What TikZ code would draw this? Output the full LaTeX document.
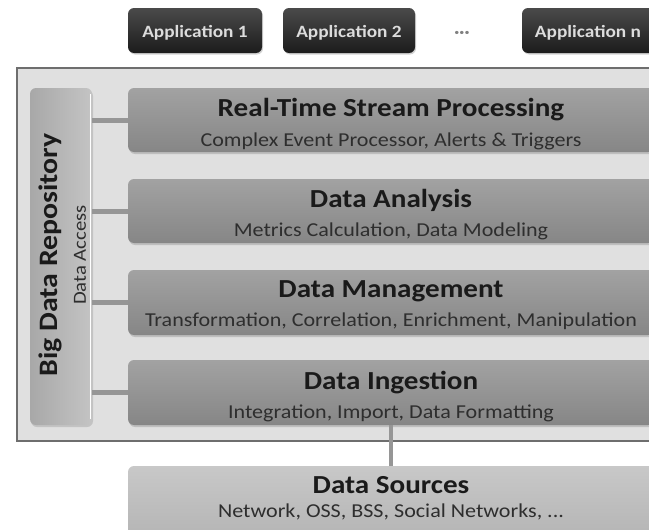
\documentclass[tikz,border=0pt]{standalone}
\usepackage{fontspec}
\setmainfont{Carlito}[FakeStretch=1.12]
\usetikzlibrary{shadows}
\definecolor{contfill}{HTML}{E0E0E0}
\definecolor{contline}{HTML}{6E6E6E}
\definecolor{layertop}{HTML}{A2A2A2}
\definecolor{layerbot}{HTML}{868686}
\definecolor{srctop}{HTML}{C8C8C8}
\definecolor{srcbot}{HTML}{B4B4B4}
\definecolor{repoleft}{HTML}{A8A8A8}
\definecolor{reporight}{HTML}{C4C4C4}
\definecolor{apptop}{HTML}{4A4A4A}
\definecolor{appbot}{HTML}{1C1C1C}
\definecolor{apptext}{HTML}{DCDCDC}
\definecolor{connc}{HTML}{969696}
\definecolor{titlec}{HTML}{1A1A1A}
\definecolor{subc}{HTML}{2E2E2E}
\tikzset{
  appbox/.style={rectangle, rounded corners=6pt, top color=apptop, bottom color=appbot,
    minimum height=45pt, inner sep=0pt, text=apptext,
    font=\fontsize{17.25}{20}\selectfont\bfseries,
    drop shadow={shadow xshift=1pt, shadow yshift=-1.5pt, opacity=0.35}},
  layerbox/.style={rectangle, rounded corners=6pt, top color=layertop, bottom color=layerbot,
    minimum width=526pt, inner sep=0pt,
    drop shadow={shadow xshift=1pt, shadow yshift=-2pt, opacity=0.35}},
  srcbox/.style={rectangle, rounded corners=6pt, top color=srctop, bottom color=srcbot,
    minimum width=526pt, inner sep=0pt},
  repobox/.style={rectangle, rounded corners=6pt, left color=repoleft, right color=reporight,
    minimum width=62pt, minimum height=337pt, inner sep=0pt,
    drop shadow={shadow xshift=1pt, shadow yshift=-2pt, opacity=0.3}},
  container/.style={rectangle, draw=contline, line width=1.5pt, fill=contfill,
    minimum width=643pt, minimum height=373pt, inner sep=0pt},
  titletext/.style={anchor=base, inner sep=0pt, text=titlec,
    font=\fontsize{26}{30}\selectfont\bfseries},
  subtext/.style={anchor=base, inner sep=0pt, text=subc,
    font=\fontsize{19.7}{23}\selectfont},
  conn/.style={draw=connc, line width=5pt},
}
\begin{document}
\begin{tikzpicture}[x=1pt,y=-1pt]
\useasboundingbox[fill=white] (0,0) rectangle (649,530);

% applications
\node[appbox, minimum width=134pt] (app1) at (195,30.5) {};
\node[anchor=base, inner sep=0pt, text=apptext, font=\fontsize{17.25}{20}\selectfont\bfseries] (app1t) at (195,37.7) {Application 1};
\node[appbox, minimum width=132pt] (app2) at (349,30.5) {};
\node[anchor=base, inner sep=0pt, text=apptext, font=\fontsize{17.25}{20}\selectfont\bfseries] (app2t) at (349,37.7) {Application 2};
\node[text=gray, inner sep=0pt, font=\fontsize{9}{10}\selectfont] (dots) at (462,33) {\textbullet\textbullet\textbullet};
\node[appbox, minimum width=134pt] (appn) at (589,30.5) {};
\node[anchor=base, inner sep=0pt, text=apptext, font=\fontsize{17.25}{20}\selectfont\bfseries] (appnt) at (588,37.7) {Application n};

% container
\node[container] (cont) at (338.5,254.5) {};

% repository
\node[repobox] (repo) at (61,256.5) {};
\draw[white, line width=1.2pt] ([xshift=-1.5pt,yshift=-6pt]repo.north east) -- ([xshift=-1.5pt,yshift=6pt]repo.south east);
\node[rotate=90, inner sep=0pt, text=titlec, font=\fontsize{26.6}{30}\selectfont\bfseries] (repot) at (50,255) {Big Data Repository};
\node[rotate=90, inner sep=0pt, text=subc, font=\fontsize{18.5}{22}\selectfont] (repos) at (80,255) {Data Access};

% layers
\node[layerbox, minimum height=64pt] (rt) at (391,120) {};
\node[layerbox, minimum height=64pt] (da) at (391,211) {};
\node[layerbox, minimum height=65pt] (dm) at (391,302.5) {};
\node[layerbox, minimum height=65pt] (di) at (391,392.5) {};

\node[titletext] (rtt) at (391,116.5) {Real-Time Stream Processing};
\node[subtext] (rts) at (391,146) {Complex Event Processor, Alerts \& Triggers};
\node[titletext] (dat) at (391,207) {Data Analysis};
\node[subtext] (das) at (391,236.7) {Metrics Calculation, Data Modeling};
\node[titletext] (dmt) at (391,297) {Data Management};
\node[subtext] (dms) at (391,326) {Transformation, Correlation, Enrichment, Manipulation};
\node[titletext] (dit) at (391,389.5) {Data Ingestion};
\node[subtext] (dis) at (391,418.3) {Integration, Import, Data Formatting};

% connectors repository -> layers
\draw[conn] (rt.west -| repo.east) -- (rt.west);
\draw[conn] (da.west -| repo.east) -- (da.west);
\draw[conn] (dm.west -| repo.east) -- (dm.west);
\draw[conn] (di.west -| repo.east) -- (di.west);

% data sources
\node[srcbox, minimum height=74pt] (src) at (391,503) {};
\node[titletext] (srct) at (391,493.5) {Data Sources};
\node[subtext] (srcs) at (391,517.5) {Network, OSS, BSS, Social Networks, ...};
\draw[conn, line width=4pt] (di.south) -- (src.north);
\end{tikzpicture}
\end{document}
